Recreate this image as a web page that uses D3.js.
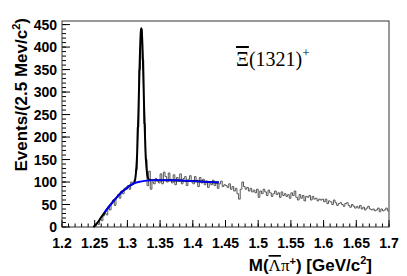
<!DOCTYPE html>
<html>
<head>
<meta charset="utf-8">
<script src="https://cdn.jsdelivr.net/npm/d3@7"></script>
<style>
  html, body { margin: 0; padding: 0; background: #fff; }
  svg { display: block; }
  .tick-label { font-family: "Liberation Sans", Arial, sans-serif; font-weight: bold; font-size: 14px; fill: #000; }
  .axis-title { font-family: "Liberation Sans", Arial, sans-serif; font-weight: bold; font-size: 17px; fill: #000; }
</style>
</head>
<body>
<div id="chart"></div>
<script>
// histogram: 2.5 MeV bins starting at 1.250 GeV
const binStart = 1.25;
const binWidth = 0.0025;
const counts = [
  2, 8, 6, 18, 14, 25, 30, 27, 44, 38,
  52, 60, 48, 66, 72, 64, 80, 74, 86, 84,
  92, 84, 100, 96, 104, 128, 222, 350, 440, 372,
  230, 150, 92, 124, 84, 100, 96, 108, 102, 98,
  118, 96, 122, 112, 100, 120, 106, 98, 116, 94,
  110, 102, 118, 96, 108, 112, 92, 106, 114, 100,
  96, 112, 104, 90, 110, 98, 106, 94, 102, 88,
  100, 94, 104, 92, 98, 86, 96, 102, 90, 94,
  92, 88, 96, 84, 90, 80, 86, 74, 62, 84,
  100, 90, 84, 88, 80, 86, 78, 82, 76, 84,
  66, 80, 74, 84, 78, 70, 82, 76, 68, 74,
  80, 72, 76, 66, 78, 70, 74, 68, 72, 64,
  76, 70, 80, 66, 60, 72, 64, 70, 58, 68,
  66, 70, 60, 68, 62, 64, 58, 62, 60, 62,
  56, 62, 52, 58, 56, 50, 60, 54, 48, 52,
  54, 50, 46, 52, 54, 48, 44, 50, 46, 42,
  46, 42, 48, 40, 44, 38, 42, 46, 40, 38,
  40, 36, 38, 42, 34, 40, 36, 38, 42, 36
];

// total fit (signal + background), sampled
const fitX = [1.248, 1.255, 1.26, 1.265, 1.27, 1.275, 1.28, 1.285, 1.29, 1.295, 1.30, 1.305, 1.31,
  1.313, 1.315, 1.317, 1.319, 1.3205, 1.3213, 1.322, 1.3235, 1.3255, 1.3275, 1.3295, 1.332, 1.335,
  1.34, 1.35, 1.36, 1.38, 1.40, 1.42, 1.44];
const fitY = [0, 11, 22, 32, 42, 51, 60, 68, 76, 82, 88, 93, 97,
  119, 167, 262, 377, 434, 442, 435, 383, 269, 175, 127, 107, 104,
  104, 104, 104, 103.5, 102, 100.5, 99];

// background component, sampled
const bgX = [1.265, 1.27, 1.275, 1.28, 1.285, 1.29, 1.295, 1.30, 1.305, 1.31, 1.32, 1.33, 1.34, 1.36, 1.38, 1.40, 1.42, 1.44];
const bgY = [32, 42, 51, 60, 68, 76, 82, 88, 93, 97, 101, 103, 104, 104, 103.5, 102, 100.5, 99];

const xTicks = [1.2, 1.25, 1.3, 1.35, 1.4, 1.45, 1.5, 1.55, 1.6, 1.65, 1.7];
const yTicks = [0, 50, 100, 150, 200, 250, 300, 350, 400, 450];

const W = 407, H = 276;
const margin = { top: 21, right: 18, bottom: 49, left: 62 };

const svg = d3.select('#chart').append('svg')
  .attr('width', W)
  .attr('height', H);

const x = d3.scaleLinear().domain([1.2, 1.7]).range([margin.left, W - margin.right]);
const y = d3.scaleLinear().domain([0, 458]).range([H - margin.bottom, margin.top]);

// minor ticks
const xMinor = d3.range(1.2, 1.7001, 0.01);
const yMinor = d3.range(0, 451, 10);

const frame = svg.append('g');

// x axis ticks (pointing up, inside)
frame.selectAll('line.xminor').data(xMinor).enter().append('line')
  .attr('x1', d => x(d)).attr('x2', d => x(d))
  .attr('y1', y(0)).attr('y2', y(0) - 3.5)
  .attr('stroke', '#000').attr('stroke-width', 1);
frame.selectAll('line.xmajor').data(xTicks).enter().append('line')
  .attr('x1', d => x(d)).attr('x2', d => x(d))
  .attr('y1', y(0)).attr('y2', y(0) - 7)
  .attr('stroke', '#000').attr('stroke-width', 1);

// y axis ticks (pointing right, inside)
frame.selectAll('line.yminor').data(yMinor).enter().append('line')
  .attr('x1', x(1.2)).attr('x2', x(1.2) + 4)
  .attr('y1', d => y(d)).attr('y2', d => y(d))
  .attr('stroke', '#000').attr('stroke-width', 1);
frame.selectAll('line.ymajor').data(yTicks).enter().append('line')
  .attr('x1', x(1.2)).attr('x2', x(1.2) + 8)
  .attr('y1', d => y(d)).attr('y2', d => y(d))
  .attr('stroke', '#000').attr('stroke-width', 1);

// frame box
svg.append('rect')
  .attr('x', x(1.2)).attr('y', margin.top)
  .attr('width', x(1.7) - x(1.2)).attr('height', y(0) - margin.top)
  .attr('fill', 'none').attr('stroke', '#333').attr('stroke-width', 1);

// tick labels
svg.selectAll('text.xl').data(xTicks).enter().append('text')
  .attr('class', 'tick-label')
  .attr('x', d => x(d)).attr('y', 248)
  .attr('text-anchor', 'middle')
  .text(d => d3.format('')(d));
svg.selectAll('text.yl').data(yTicks).enter().append('text')
  .attr('class', 'tick-label')
  .attr('x', x(1.2) - 5).attr('y', d => y(d) + 5)
  .attr('text-anchor', 'end')
  .text(d => d);

// histogram as step outline
const histPts = [[binStart, 0]].concat(counts.map((c, i) => [binStart + i * binWidth, c]));
histPts.push([binStart + counts.length * binWidth, counts[counts.length - 1]]);
svg.append('path')
  .datum(histPts)
  .attr('fill', 'none')
  .attr('stroke', '#555')
  .attr('stroke-width', 1)
  .attr('d', d3.line().x(d => x(d[0])).y(d => y(d[1])).curve(d3.curveStepAfter));

// total fit
svg.append('path')
  .datum(fitX.map((v, i) => [v, fitY[i]]))
  .attr('fill', 'none')
  .attr('stroke', '#000')
  .attr('stroke-width', 2)
  .attr('d', d3.line().x(d => x(d[0])).y(d => y(d[1])).curve(d3.curveMonotoneX));

// background
svg.append('path')
  .datum(bgX.map((v, i) => [v, bgY[i]]))
  .attr('fill', 'none')
  .attr('stroke', '#0000ff')
  .attr('stroke-width', 1.8)
  .attr('d', d3.line().x(d => x(d[0])).y(d => y(d[1])).curve(d3.curveMonotoneX));

// y title
svg.append('text')
  .attr('class', 'axis-title')
  .attr('transform', 'translate(27,18) rotate(-90)')
  .attr('text-anchor', 'end')
  .call(t => {
    t.append('tspan').text('Events/(2.5 Mev/c');
    t.append('tspan').attr('dy', -7).style('font-size', '11px').text('2');
    t.append('tspan').attr('dy', 7).text(')');
  });

// x title
const xt = svg.append('text')
  .attr('class', 'axis-title')
  .attr('x', 372).attr('y', 271)
  .attr('text-anchor', 'end');
xt.append('tspan').text('M(');
xt.append('tspan').style('text-decoration', 'overline').style('font-weight', 'normal')
  .style('font-family', '"Liberation Serif", serif').text('Λ');
xt.append('tspan').style('font-weight', 'normal').style('font-family', '"Liberation Serif", serif').text('π');
xt.append('tspan').attr('dy', -6).style('font-size', '11px').text('+');
xt.append('tspan').attr('dy', 6).text(') [GeV/c');
xt.append('tspan').attr('dy', -7).style('font-size', '11px').text('2');
xt.append('tspan').attr('dy', 7).text(']');

// particle label
const pl = svg.append('text')
  .attr('x', 236).attr('y', 66)
  .style('font-family', '"Liberation Serif", "Times New Roman", serif')
  .style('font-size', '20px');
pl.append('tspan').style('text-decoration', 'overline').text('Ξ');
pl.append('tspan').text('(1321)');
pl.append('tspan').attr('dy', -9).style('font-size', '13px').text('+');
</script>
</body>
</html>
